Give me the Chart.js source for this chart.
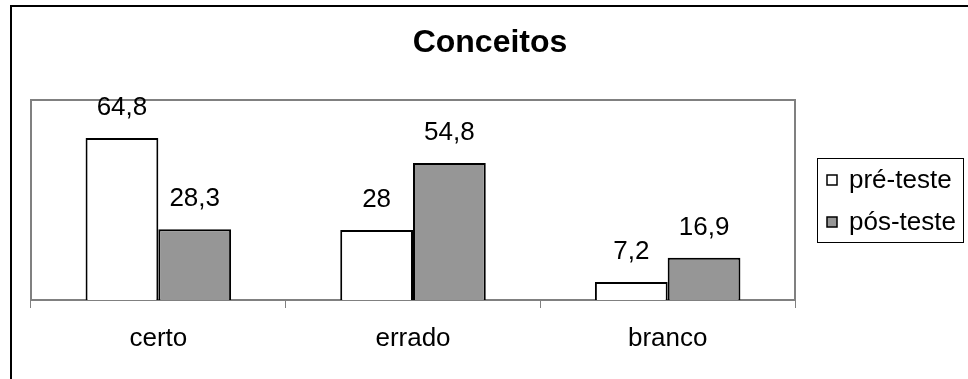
<!DOCTYPE html>
<html>
<head>
<meta charset="utf-8">
<script src="https://cdn.jsdelivr.net/npm/chart.js@4"></script>
<style>
  html, body { margin: 0; padding: 0; background: #fff; }
  #wrap { width: 968px; height: 379px; }
</style>
</head>
<body>
<div id="wrap"><canvas id="myChart" width="968" height="379"></canvas></div>
<script>
var categories = ['certo', 'errado', 'branco']
var seriesNames = ['pré-teste', 'pós-teste']
var preTeste = [64.8, 28, 7.2]
var posTeste = [28.3, 54.8, 16.9]
var chartTitle = 'Conceitos'

var FONT = 'Arial, "Liberation Sans", sans-serif'

function fmt(v){
    return String(v).replace('.', ',')
}

var framePlugin = {
    id: 'frame',
    beforeDraw: function(chart){
        var ctx = chart.ctx
        var a = chart.chartArea
        ctx.save()
        // outer chart border (runs off the right and bottom edge)
        ctx.strokeStyle = '#000'
        ctx.lineWidth = 2
        ctx.strokeRect(11, 6, 1000, 500)
        // plot area border
        ctx.strokeStyle = '#808080'
        ctx.lineWidth = 2
        ctx.strokeRect(a.left, a.top, a.right - a.left, a.bottom - a.top)
        ctx.restore()
    },
    afterDraw: function(chart){
        var ctx = chart.ctx
        ctx.save()
        // title
        ctx.fillStyle = '#000'
        ctx.font = 'bold 32px ' + FONT
        ctx.textAlign = 'center'
        ctx.textBaseline = 'middle'
        ctx.fillText(chartTitle, 490, 43)

        // value labels
        ctx.font = '26px ' + FONT
        chart.data.datasets.forEach(function(ds, i){
            chart.getDatasetMeta(i).data.forEach(function(bar, j){
                ctx.fillText(fmt(ds.data[j]), bar.x, bar.y - 30)
            })
        })

        // legend
        ctx.strokeStyle = '#000'
        ctx.lineWidth = 1
        ctx.strokeRect(817.5, 158.5, 146, 84)
        ctx.textAlign = 'left'
        chart.data.datasets.forEach(function(ds, i){
            var cy = 180 + i * 42
            ctx.fillStyle = ds.backgroundColor
            ctx.fillRect(827, cy - 5, 10, 10)
            ctx.lineWidth = 1.5
            ctx.strokeRect(827, cy - 5, 10, 10)
            ctx.fillStyle = '#000'
            ctx.fillText(ds.label, 849, cy + 1)
        })
        ctx.restore()
    }
}

function drawChart(){
    var ctx = document.getElementById('myChart').getContext('2d')
    var myChart = new Chart(ctx, {
        type: 'bar',
        data: {
            labels: categories,
            datasets: [{
                label: seriesNames[0],
                data: preTeste,
                backgroundColor: '#ffffff',
                borderColor: '#000000',
                borderWidth: 2,
                borderSkipped: 'bottom'
            }, {
                label: seriesNames[1],
                data: posTeste,
                backgroundColor: '#969696',
                borderColor: '#000000',
                borderWidth: 2,
                borderSkipped: 'bottom'
            }]
        },
        options: {
            responsive: false,
            animation: false,
            layout: {
                padding: { left: 31, top: 100, right: 173, bottom: 0 }
            },
            plugins: {
                legend: { display: false },
                title: { display: false },
                tooltip: { enabled: false }
            },
            datasets: {
                bar: { categoryPercentage: 2 / 3.5, barPercentage: 1 }
            },
            scales: {
                x: {
                    afterFit: function(scale){ scale.height = 79 },
                    grid: {
                        offset: true,
                        drawOnChartArea: false,
                        drawTicks: true,
                        tickLength: 8,
                        color: '#808080',
                        lineWidth: 1
                    },
                    border: { display: true, color: '#808080', width: 1 },
                    ticks: {
                        color: '#000',
                        padding: 15,
                        font: { family: FONT, size: 26 }
                    }
                },
                y: {
                    display: false,
                    min: 0,
                    max: 80
                }
            }
        },
        plugins: [framePlugin]
    })
}

document.addEventListener('DOMContentLoaded', drawChart)
</script>
</body>
</html>
